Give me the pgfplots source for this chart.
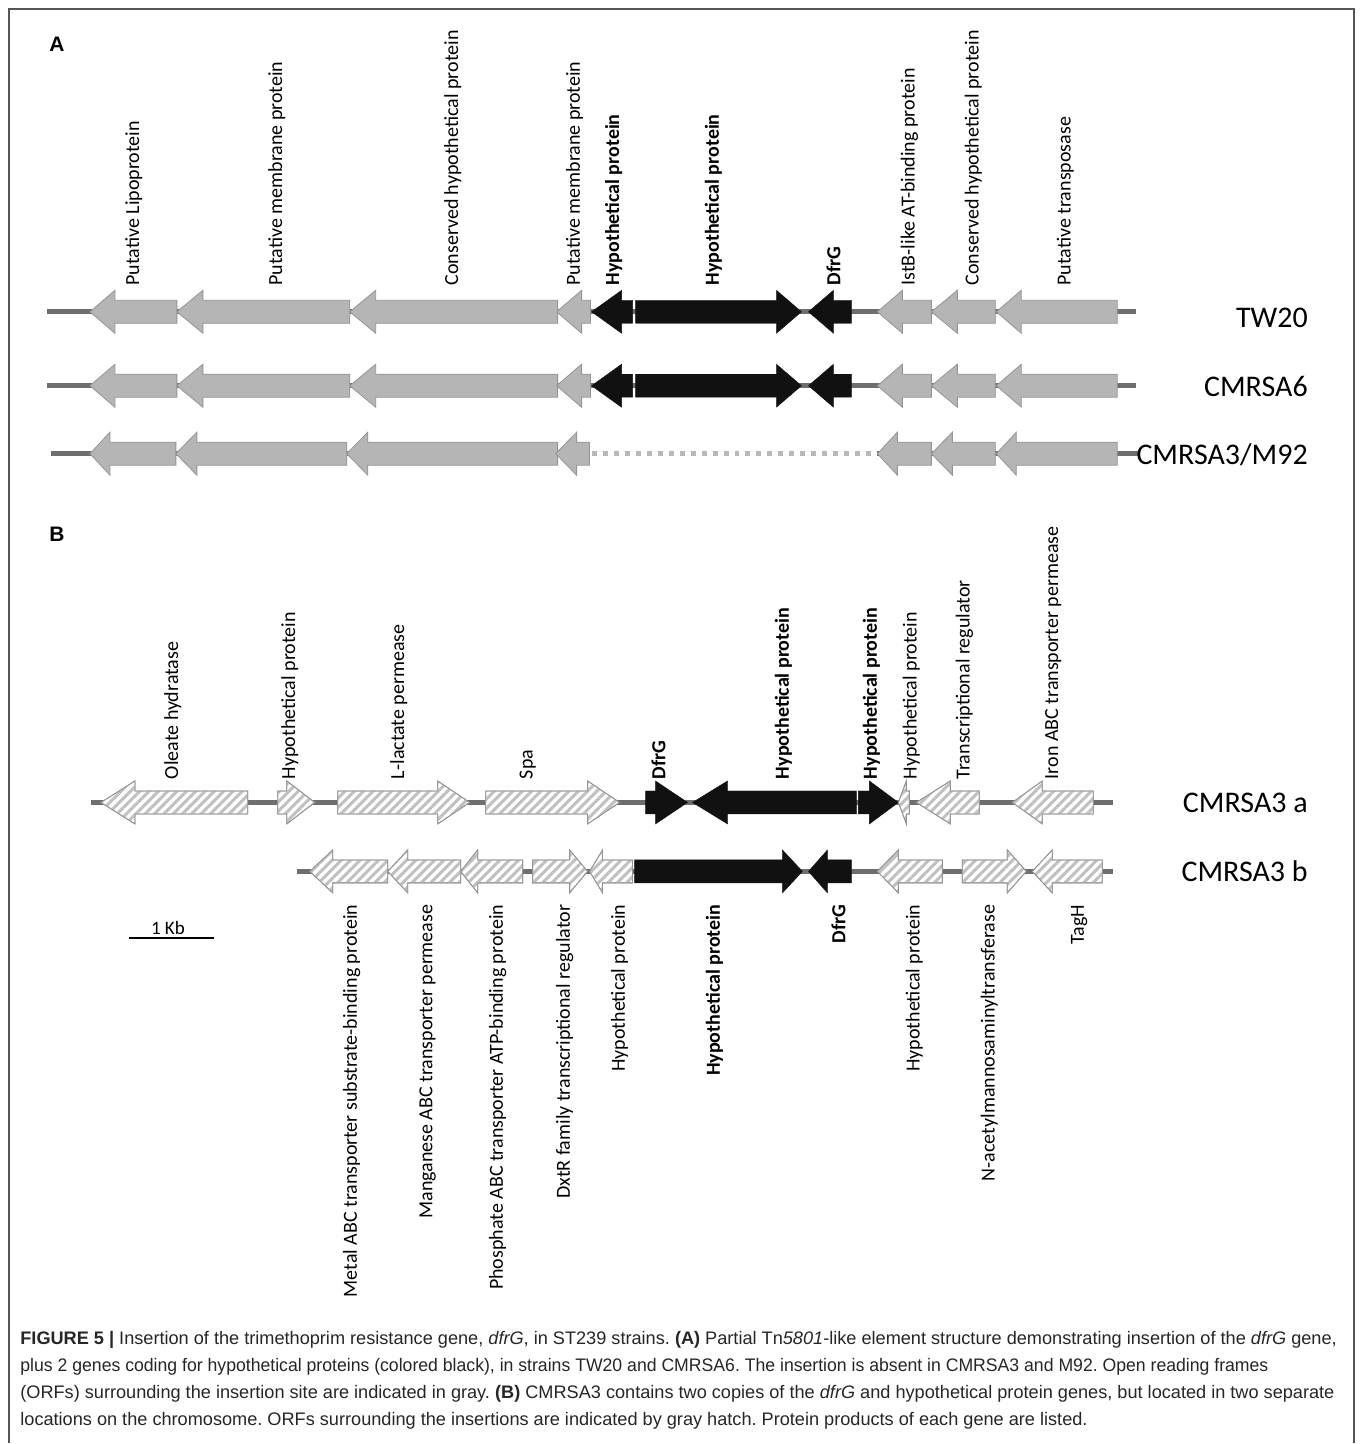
\documentclass[border=0pt]{standalone}
\usepackage{pgfplots}
\pgfplotsset{compat=1.18}
\usepackage{graphicx}
\usepackage{fontspec}
\setmainfont{Carlito}
\newfontfamily\capfont{Liberation Sans}
\usetikzlibrary{patterns.meta}
\frenchspacing

\definecolor{geneg}{HTML}{B5B5B5}
\definecolor{genee}{HTML}{959595}
\definecolor{bbone}{HTML}{6E6E6E}
\definecolor{blk}{HTML}{111111}
\definecolor{dotg}{HTML}{B8B8B8}
\definecolor{frame}{HTML}{555555}

\pgfplotsset{
  ga/.style={fill=geneg, draw=genee, line width=0.4pt},
  bk/.style={fill=blk, draw=blk, line width=0.2pt},
  ht/.style={fill=white, draw=genee, line width=0.4pt,
    postaction={pattern={Lines[angle=45,distance=3.3pt,line width=1.5pt]}, pattern color=geneg!85}},
}
\tikzset{
  labU/.style={rotate=90, anchor=west, inner sep=0pt, font=\fontsize{10}{12}\selectfont},
  labD/.style={rotate=90, anchor=east, inner sep=0pt, font=\fontsize{10}{12}\selectfont},
  strain/.style={anchor=east, inner sep=0pt, font=\fontsize{15}{18}\selectfont},
  capt/.style={anchor=base west, inner sep=0pt, text=black!85, font=\capfont\fontsize{9.08}{11}\selectfont},
  panel/.style={anchor=base west, inner sep=0pt, font=\capfont\bfseries\fontsize{10.5}{12}\selectfont},
}

% \gene{tip}{head base}{tail}{y}{style}
\newcommand\gene[5]{%
  \pgfmathsetmacro\gyA{#4-21.5}\pgfmathsetmacro\gyB{#4-11.5}%
  \pgfmathsetmacro\gyC{#4+11.5}\pgfmathsetmacro\gyD{#4+21.5}%
  \edef\gtmp{\noexpand\addplot[#5] coordinates {(#1,#4) (#2,\gyA) (#2,\gyB) (#3,\gyB) (#3,\gyC) (#2,\gyC) (#2,\gyD)} --cycle;}%
  \gtmp}

\begin{document}
\begin{tikzpicture}
\begin{axis}[
  scale only axis, width=680pt, height=722pt,
  xmin=0, xmax=1360, ymin=0, ymax=1444, y dir=reverse,
  hide axis, clip=false]

\addplot[draw=none, fill=white] coordinates {(0,0) (1360,0) (1360,1444) (0,1444)} --cycle;
\addplot[draw=frame, line width=1pt] coordinates {(9,1444) (9,9) (1355,9) (1355,1444)};

% ---------- Panel A ----------
\node[panel] at (axis cs:49,52) {A};

% backbones
\addplot[bbone, line width=2.5pt] coordinates {(47,312) (1137,312)};
\addplot[bbone, line width=2.5pt] coordinates {(47,386) (1137,386)};
\addplot[bbone, line width=2.5pt] coordinates {(51,454) (590,454)};
\addplot[bbone, line width=2.5pt] coordinates {(878,454) (1139,454)};
\addplot[dotg, line width=2.5pt, dash pattern=on 2.5pt off 3pt] coordinates {(592,454) (876,454)};

% TW20
\gene{90}{115}{177}{312}{ga}
\gene{177}{203}{350}{312}{ga}
\gene{350}{376}{558}{312}{ga}
\gene{557}{582}{591}{312}{ga}
\gene{592}{622}{633}{312}{bk}
\gene{802}{777}{636}{312}{bk}
\gene{809}{834}{852}{312}{bk}
\gene{878}{903}{932}{312}{ga}
\gene{932}{958}{996}{312}{ga}
\gene{997}{1022}{1118}{312}{ga}
% CMRSA6
\gene{90}{115}{177}{386}{ga}
\gene{177}{203}{350}{386}{ga}
\gene{350}{376}{558}{386}{ga}
\gene{557}{582}{591}{386}{ga}
\gene{592}{622}{633}{386}{bk}
\gene{802}{777}{636}{386}{bk}
\gene{809}{834}{852}{386}{bk}
\gene{878}{903}{932}{386}{ga}
\gene{932}{958}{996}{386}{ga}
\gene{997}{1022}{1118}{386}{ga}
% CMRSA3/M92
\gene{90}{110}{176}{454}{ga}
\gene{176}{197}{347}{454}{ga}
\gene{347}{368}{558}{454}{ga}
\gene{556}{577}{590}{454}{ga}
\gene{878}{898}{932}{454}{ga}
\gene{932}{953}{996}{454}{ga}
\gene{997}{1017}{1118}{454}{ga}

\node[labU] at (axis cs:134,286) {Putative Lipoprotein};
\node[labU] at (axis cs:277,286) {Putative membrane protein};
\node[labU] at (axis cs:453,286) {Conserved hypothetical protein};
\node[labU] at (axis cs:575,286) {Putative membrane protein};
\node[labU] at (axis cs:614,286) {\bfseries Hypothetical protein};
\node[labU] at (axis cs:714,286) {\bfseries Hypothetical protein};
\node[labU] at (axis cs:834,286) {\bfseries DfrG};
\node[labU] at (axis cs:910,286) {IstB-like AT-binding protein};
\node[labU] at (axis cs:974,286) {Conserved hypothetical protein};
\node[labU] at (axis cs:1066,286) {Putative transposase};

\node[strain] at (axis cs:1309,318) {TW20};
\node[strain] at (axis cs:1309,387) {CMRSA6};
\node[strain] at (axis cs:1309,455) {CMRSA3/M92};

% ---------- Panel B ----------
\node[panel] at (axis cs:49,542) {B};

\addplot[bbone, line width=2.5pt] coordinates {(91,803) (1114,803)};
\addplot[bbone, line width=2.5pt] coordinates {(297,872) (1114,872)};

% CMRSA3 a
\gene{101}{135}{248}{803}{ht}
\gene{315}{287}{278}{803}{ht}
\gene{470}{438}{338}{803}{ht}
\gene{620}{588}{486}{803}{ht}
\gene{688}{656}{646}{803}{bk}
\gene{693}{728}{857}{803}{bk}
\gene{899}{870}{859}{803}{bk}
\gene{899}{907}{910}{803}{ht}
\gene{917}{951}{980}{803}{ht}
\gene{1013}{1043}{1094}{803}{ht}
% CMRSA3 b
\gene{310}{333}{388}{872}{ht}
\gene{388}{408}{461}{872}{ht}
\gene{461}{478}{523}{872}{ht}
\gene{588}{570}{533}{872}{ht}
\gene{590}{603}{633}{872}{ht}
\gene{803}{783}{635}{872}{bk}
\gene{809}{828}{852}{872}{bk}
\gene{878}{899}{943}{872}{ht}
\gene{1027}{1008}{963}{872}{ht}
\gene{1033}{1053}{1103}{872}{ht}

\node[labU] at (axis cs:173,780) {Oleate hydratase};
\node[labU] at (axis cs:290,780) {Hypothetical protein};
\node[labU] at (axis cs:399,780) {L-lactate permease};
\node[labU] at (axis cs:528,780) {Spa};
\node[labU] at (axis cs:659,780) {\bfseries DfrG};
\node[labU] at (axis cs:784,780) {\bfseries Hypothetical protein};
\node[labU] at (axis cs:872,780) {\bfseries Hypothetical protein};
\node[labU] at (axis cs:912,780) {Hypothetical protein};
\node[labU] at (axis cs:965,780) {Transcriptional regulator};
\node[labU] at (axis cs:1054,780) {Iron ABC transporter permease};

\node[labD] at (axis cs:352,905) {Metal ABC transporter substrate-binding protein};
\node[labD] at (axis cs:428,905) {Manganese ABC transporter permease};
\node[labD] at (axis cs:498,905) {Phosphate ABC transporter ATP-binding protein};
\node[labD] at (axis cs:565,905) {DxtR family transcriptional regulator};
\node[labD] at (axis cs:620,905) {Hypothetical protein};
\node[labD] at (axis cs:715,905) {\bfseries Hypothetical protein};
\node[labD] at (axis cs:839,905) {\bfseries DfrG};
\node[labD] at (axis cs:915,905) {Hypothetical protein};
\node[labD] at (axis cs:990,905) {N-acetylmannosaminyltransferase};
\node[labD] at (axis cs:1080,905) {TagH};

\node[strain] at (axis cs:1309,803) {CMRSA3 a};
\node[strain] at (axis cs:1309,872) {CMRSA3 b};

% scale bar
\addplot[black, line width=1pt] coordinates {(129,939) (214,939)};
\node[anchor=base, inner sep=0pt, font=\fontsize{9.5}{11}\selectfont] at (axis cs:168,935) {1 Kb};

% ---------- Caption ----------
\node[capt] at (axis cs:20,1345) {\textbf{FIGURE 5 |} Insertion of the trimethoprim resistance gene, \textit{dfrG}, in ST239 strains. \textbf{(A)} Partial Tn\textit{5801}-like element structure demonstrating insertion of the \textit{dfrG} gene,};
\node[capt] at (axis cs:20,1372) {\scalebox{0.972}[1]{plus 2 genes coding for hypothetical proteins (colored black), in strains TW20 and CMRSA6. The insertion is absent in CMRSA3 and M92. Open reading frames}};
\node[capt] at (axis cs:20,1399) {(ORFs) surrounding the insertion site are indicated in gray. \textbf{(B)} CMRSA3 contains two copies of the \textit{dfrG} and hypothetical protein genes, but located in two separate};
\node[capt] at (axis cs:20,1426) {locations on the chromosome. ORFs surrounding the insertions are indicated by gray hatch. Protein products of each gene are listed.};

\end{axis}
\end{tikzpicture}
\end{document}
